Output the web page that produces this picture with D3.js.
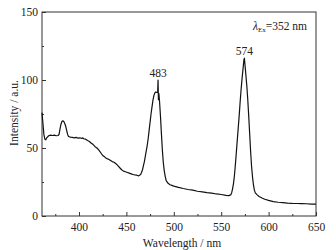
<!DOCTYPE html>
<html><head><meta charset="utf-8">
<script src="https://cdn.jsdelivr.net/npm/d3@7"></script>
<style>body{margin:0;background:#fff}svg{display:block}text{font-family:"Liberation Serif","Times New Roman",serif;fill:#222}</style>
</head><body><svg id="c" width="336" height="250"></svg>
<script>
const wavelength = [361,362,363,364,365,366,368,370,372,374,376,378,379,380,381,382,383,384,385,386,387,388,389,391,393,395,397,399,401,403,404,405,407,409,411,413,415,417,419,421,423,425,427,429,431,433,435,437,439,441,443,445,447,449,451,453,455,457,459,461,463,465,466,467,468,469,470,471,472,473,474,475,476,477,478,479,480,481,482,483,483.4,483.8,484.3,485,486,487,488,489,490,491,492,494,496,498,500,505,510,515,520,525,530,535,540,545,550,555,558,560,561,562,563,564,565,566,567,568,569,570,571,572,573,574,574.5,575,576,577,578,579,580,581,582,583,584,585,586,588,590,593,596,600,605,610,615,620,625,630,635,640,645,650];
const intensity = [76,68,60,56.5,56,57.5,59,59.5,59.2,59.5,59,59.2,60,64,67.5,69.5,70,69.5,68,66,63,60,58.5,58,57.8,57.5,57.8,57.2,57.5,57,57.5,56.8,56.5,55.5,54.8,53.5,52.5,51,50,48.5,46.5,44.5,43.5,42.3,41.8,41,40,39.5,38.5,37,35.5,34,33,32.5,32,31.5,31,30.5,30.2,30,29.5,30.5,32,34,37,40,44,48,52,57,63,69,75,80,85,88.5,90.5,91.2,90.8,91,100,85.5,90,84,73,60,48,39,33,29,26,24,23,22.5,22,21,20.2,19.5,19,18.2,17.8,17.2,16.8,16.2,15.8,15.2,15,15.5,17,20,24,30,38,47,56,65,74,84,93,101,108,115,116,112,104,96,86,74,61,48,37,29,23,19,17,15.5,14.3,13.2,12.3,11.5,10.6,10.1,9.8,9.5,9.3,9.2,9.1,9,8.8,8.7];
const xTicks = [400,450,500,550,600,650];
const xMinor = [375,425,475,525,575,625];
const yTicks = [0,50,100,150];
const yMinor = [25,75,125];
const peakLabels = [{wl:483.4, v:100, t:"483"},{wl:574.5, v:116, t:"574"}];

const W=336,H=250, m={l:42,t:12,r:20,b:34};
const svg=d3.select("#c");
const x=d3.scaleLinear().domain([361,650]).range([m.l,W-m.r]);
const y=d3.scaleLinear().domain([0,150]).range([H-m.b,m.t]);
const col="#333";

svg.append("rect").attr("x",m.l).attr("y",m.t).attr("width",W-m.r-m.l).attr("height",H-m.b-m.t)
  .attr("fill","none").attr("stroke",col).attr("stroke-width",1);

svg.append("g").attr("transform",`translate(0,${H-m.b})`)
  .call(d3.axisBottom(x).tickValues(xTicks).tickSize(-4).tickPadding(7).tickFormat(d3.format("d")));
svg.append("g").attr("transform",`translate(0,${H-m.b})`)
  .call(d3.axisBottom(x).tickValues(xMinor).tickSize(-2).tickFormat(""));
svg.append("g").attr("transform",`translate(${m.l},0)`)
  .call(d3.axisLeft(y).tickValues(yTicks).tickSize(-4).tickPadding(4).tickFormat(d3.format("d")));
svg.append("g").attr("transform",`translate(${m.l},0)`)
  .call(d3.axisLeft(y).tickValues(yMinor).tickSize(-2).tickFormat(""));
svg.selectAll(".domain").remove();
svg.selectAll(".tick line").attr("stroke",col);
svg.selectAll(".tick text").attr("font-size",11.5).attr("font-family","Liberation Serif").attr("fill","#222");

const pts=wavelength.map((w,i)=>[w,intensity[i]]);
svg.append("path").datum(pts).attr("fill","none").attr("stroke","#111").attr("stroke-width",1.2)
  .attr("stroke-linejoin","round")
  .attr("d",d3.line().x(d=>x(d[0])).y(d=>y(d[1])));

svg.selectAll(".pl").data(peakLabels).enter().append("text")
  .attr("x",d=>x(d.wl)).attr("y",d=>y(d.v)-3).attr("text-anchor","middle")
  .attr("font-size",11.5).text(d=>d.t);

const ex=svg.append("text").attr("x",307).attr("y",30).attr("text-anchor","end").attr("font-size",11.5);
ex.append("tspan").attr("font-style","italic").text("λ");
ex.append("tspan").attr("font-size",7).attr("dy",2).text("Ex");
ex.append("tspan").attr("dy",-2).text("=352 nm");

svg.append("text").attr("x",(m.l+W-m.r)/2+3).attr("y",247).attr("text-anchor","middle").attr("font-size",11.5).text("Wavelength / nm");
svg.append("text").attr("transform",`translate(18,113) rotate(-90)`).attr("text-anchor","middle").attr("font-size",11.5).text("Intensity / a.u.");
</script></body></html>
